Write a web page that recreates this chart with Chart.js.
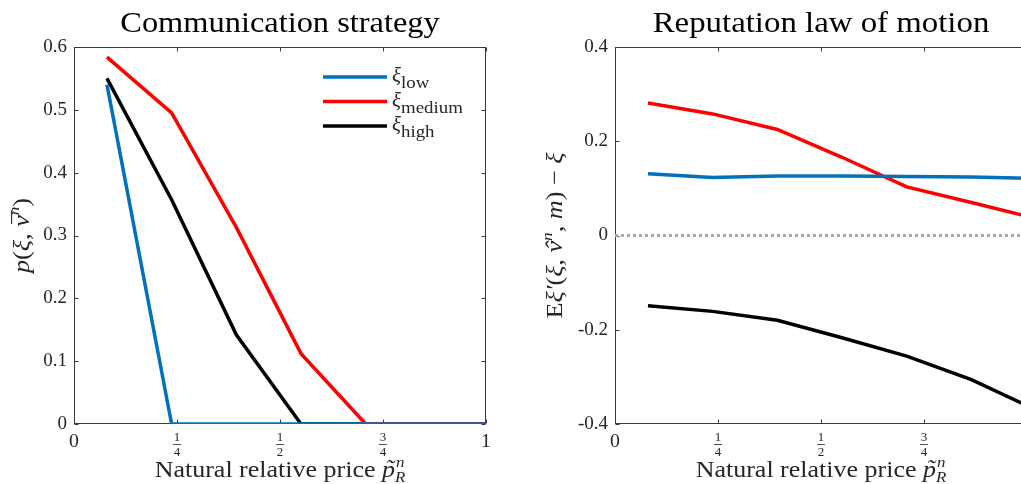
<!DOCTYPE html>
<html>
<head>
<meta charset="utf-8">
<script src="https://cdn.jsdelivr.net/npm/chart.js@4"></script>
<style>
  body { margin: 0; width: 1021px; height: 484px; overflow: hidden; position: relative; background: #fff; }
  canvas { position: absolute; top: 0; }
</style>
</head>
<body>
<canvas id="left" width="510" height="484" style="left:0"></canvas>
<canvas id="right" width="540" height="484" style="left:510px"></canvas>
<script>
// grid of natural relative prices (last point lies just past the axis and is clipped)
const xGrid = [0.08, 0.237, 0.394, 0.551, 0.708, 0.865, 1.022];

// communication strategy p(xi, v)
const probLow = [0.54, 0, 0, 0, 0, 0, 0];
const probMedium = [0.584, 0.495, 0.313, 0.112, 0, 0, 0];
const probHigh = [0.55, 0.357, 0.142, 0, 0, 0, 0];

// reputation law of motion
const driftLow = [0.131, 0.123, 0.126, 0.126, 0.125, 0.124, 0.121];
const driftMedium = [0.281, 0.258, 0.225, 0.166, 0.103, 0.070, 0.036];
const driftHigh = [-0.149, -0.161, -0.18, -0.217, -0.256, -0.306, -0.37];
const zeroLineX = [0, 1.05];

const seriesNames = ['low', 'medium', 'high'];
const seriesColors = ['#0072BD', '#FF0000', '#000000'];

const xTicks = [0, 0.25, 0.5, 0.75, 1];
const xTickLabels = ['0', '1/4', '1/2', '3/4', '1'];

const SERIF = '"Liberation Serif", "DejaVu Serif", serif';
const AXIS = '#3a3a3a';
const up = s => s + 'px ' + SERIF;
const it = s => 'italic ' + s + 'px ' + SERIF;

const pts = ys => ys.map((y, i) => ({ x: xGrid[i], y: y }));

// draws a row of text pieces centred on x, stretched by k (the LaTeX font is wider)
function drawRich(ctx, parts, x, y, k) {
    let total = 0;
    const widths = parts.map(p => {
        ctx.font = p.f;
        const w = ctx.measureText(p.t).width;
        if (!p.stack) total += w;
        return w;
    });
    ctx.save();
    ctx.translate(x, y);
    ctx.scale(k || 1, 1);
    let cx = -total / 2;
    ctx.textAlign = 'left';
    ctx.textBaseline = 'alphabetic';
    parts.forEach((p, i) => {
        ctx.font = p.f;
        ctx.fillText(p.t, cx + (p.dx || 0), p.dy || 0);
        if (!p.stack) cx += widths[i];
    });
    ctx.restore();
}

const xTitle = [
    { t: 'Natural relative price ', f: up(23) },
    { t: '\u02DC', f: it(23), stack: true, dx: 3, dy: -1 },
    { t: 'p', f: it(23) },
    { t: 'n', f: it(15), dy: -10, stack: true, dx: 1 },
    { t: 'R', f: it(15), dy: 5 }
];

// per-chart decorations
const decoSettings = {
    left: {
        title: 'Communication strategy',
        titleStretch: 1.08,
        yTitleX: 29,
        yTitle: [
            { t: 'p', f: it(23) },
            { t: '(', f: up(23) },
            { t: '\u03BE', f: it(23) },
            { t: ', ', f: up(23) },
            { t: '\u00AF', f: it(23), stack: true, dx: 1 },
            { t: 'v', f: it(23) },
            { t: 'n', f: it(15), dy: -10 },
            { t: ')', f: up(23) }
        ],
        legend: true
    },
    right: {
        title: 'Reputation law of motion',
        titleStretch: 1.095,
        yTitleX: 52,
        yTitle: [
            { t: 'E', f: up(23) },
            { t: '\u03BE\u2032', f: it(23) },
            { t: '(', f: up(23) },
            { t: '\u03BE', f: it(23) },
            { t: ', ', f: up(23) },
            { t: '\u02C6', f: it(23), stack: true, dx: 2 },
            { t: 'v', f: it(23) },
            { t: 'n', f: it(15), dy: -10 },
            { t: ', ', f: up(23) },
            { t: 'm', f: it(23) },
            { t: ') \u2212 ', f: up(23) },
            { t: '\u03BE', f: it(23) }
        ],
        legend: false
    }
};

const deco = {
    id: 'deco',
    beforeDatasetsDraw(chart) {
        const { ctx, chartArea: a, scales: { x, y } } = chart;
        const L = Math.round(a.left) + 0.5, R = Math.round(a.right) - 0.5;
        const T = Math.round(a.top) + 0.5, B = Math.round(a.bottom) - 0.5;
        ctx.save();
        ctx.strokeStyle = AXIS;
        ctx.lineWidth = 1;
        ctx.strokeRect(L, T, R - L, B - T);
        ctx.beginPath();
        xTicks.forEach(v => {
            const px = Math.round(x.getPixelForValue(v)) + 0.5;
            ctx.moveTo(px, B); ctx.lineTo(px, B - 4);
            ctx.moveTo(px, T); ctx.lineTo(px, T + 4);
        });
        y.ticks.forEach(t => {
            const py = Math.round(y.getPixelForValue(t.value)) + 0.5;
            ctx.moveTo(L, py); ctx.lineTo(L + 4, py);
            ctx.moveTo(R, py); ctx.lineTo(R - 4, py);
        });
        ctx.stroke();
        ctx.restore();
    },
    afterDraw(chart) {
        const { ctx, chartArea: a, scales: { x } } = chart;
        const s = decoSettings[chart.canvas.id];
        ctx.save();
        ctx.fillStyle = '#262626';
        ctx.strokeStyle = '#262626';

        // x tick labels, fractions stacked
        xTickLabels.forEach((lab, i) => {
            const px = x.getPixelForValue(xTicks[i]);
            ctx.textAlign = 'center';
            ctx.textBaseline = 'alphabetic';
            if (lab.indexOf('/') > 0) {
                const [n, d] = lab.split('/');
                ctx.font = up(13);
                ctx.fillText(n, px, a.bottom + 17);
                ctx.fillText(d, px, a.bottom + 32);
                ctx.lineWidth = 0.8;
                ctx.beginPath();
                ctx.moveTo(px - 4, a.bottom + 20.5);
                ctx.lineTo(px + 4, a.bottom + 20.5);
                ctx.stroke();
            } else {
                drawRich(ctx, [{ t: lab, f: up(18) }], px, a.bottom + 23, 1.1);
            }
        });

        // axis titles
        const cx = (a.left + a.right) / 2;
        drawRich(ctx, xTitle, cx, a.bottom + 53, 1.13);
        ctx.save();
        ctx.translate(s.yTitleX, (a.top + a.bottom) / 2);
        ctx.rotate(-Math.PI / 2);
        drawRich(ctx, s.yTitle, 0, 0, 1.14);
        ctx.restore();

        // chart title
        ctx.fillStyle = '#000';
        drawRich(ctx, [{ t: s.title, f: up(30) }], cx, a.top - 15, s.titleStretch);

        // legend
        if (s.legend) {
            seriesNames.forEach((name, i) => {
                const ly = a.top + 30 + i * 24.5;
                ctx.strokeStyle = seriesColors[i];
                ctx.lineWidth = 3.5;
                ctx.beginPath();
                ctx.moveTo(a.left + 249, ly);
                ctx.lineTo(a.left + 313, ly);
                ctx.stroke();
                ctx.fillStyle = '#262626';
                ctx.textAlign = 'left';
                ctx.font = it(21);
                ctx.fillText('\u03BE', a.left + 318, ly + 5);
                const w = ctx.measureText('\u03BE').width;
                ctx.save();
                ctx.translate(a.left + 318 + w, ly + 11);
                ctx.scale(1.18, 1);
                ctx.font = up(16);
                ctx.fillText(name, 0, 0);
                ctx.restore();
            });
        }
        ctx.restore();
    }
};

function lineSet(label, ys, color) {
    return {
        label: label,
        data: pts(ys),
        borderColor: color,
        borderWidth: 3.5,
        pointRadius: 0,
        tension: 0,
        fill: false
    };
}

function makeOptions(yMin, yMax, yStep, yAxisWidth, padRight) {
    return {
        responsive: false,
        animation: false,
        devicePixelRatio: 1,
        layout: { padding: { left: 0, top: 47, right: padRight, bottom: 0 } },
        plugins: { legend: { display: false }, tooltip: { enabled: false } },
        scales: {
            x: {
                type: 'linear',
                min: 0,
                max: 1,
                grid: { display: false },
                border: { display: false },
                ticks: { display: false },
                afterFit: scale => { scale.height = 60; }
            },
            y: {
                min: yMin,
                max: yMax,
                grid: { display: false, drawTicks: false },
                border: { display: false },
                ticks: {
                    stepSize: yStep,
                    padding: 7,
                    color: '#262626',
                    font: { family: SERIF, size: 19 }
                },
                afterFit: scale => { scale.width = yAxisWidth; }
            }
        }
    };
}

new Chart(document.getElementById('left'), {
    type: 'line',
    data: {
        datasets: [
            lineSet(seriesNames[0], probLow, seriesColors[0]),
            lineSet(seriesNames[1], probMedium, seriesColors[1]),
            lineSet(seriesNames[2], probHigh, seriesColors[2])
        ]
    },
    options: makeOptions(0, 0.6, 0.1, 74, 24),
    plugins: [deco]
});

new Chart(document.getElementById('right'), {
    type: 'line',
    data: {
        datasets: [
            {
                label: 'zero',
                data: zeroLineX.map(v => ({ x: v, y: 0 })),
                borderColor: '#aaaaaa',
                borderWidth: 3,
                borderDash: [3, 3],
                pointRadius: 0
            },
            lineSet(seriesNames[0], driftLow, seriesColors[0]),
            lineSet(seriesNames[1], driftMedium, seriesColors[1]),
            lineSet(seriesNames[2], driftHigh, seriesColors[2])
        ]
    },
    options: makeOptions(-0.4, 0.4, 0.2, 105, 23),
    plugins: [deco]
});
</script>
</body>
</html>
